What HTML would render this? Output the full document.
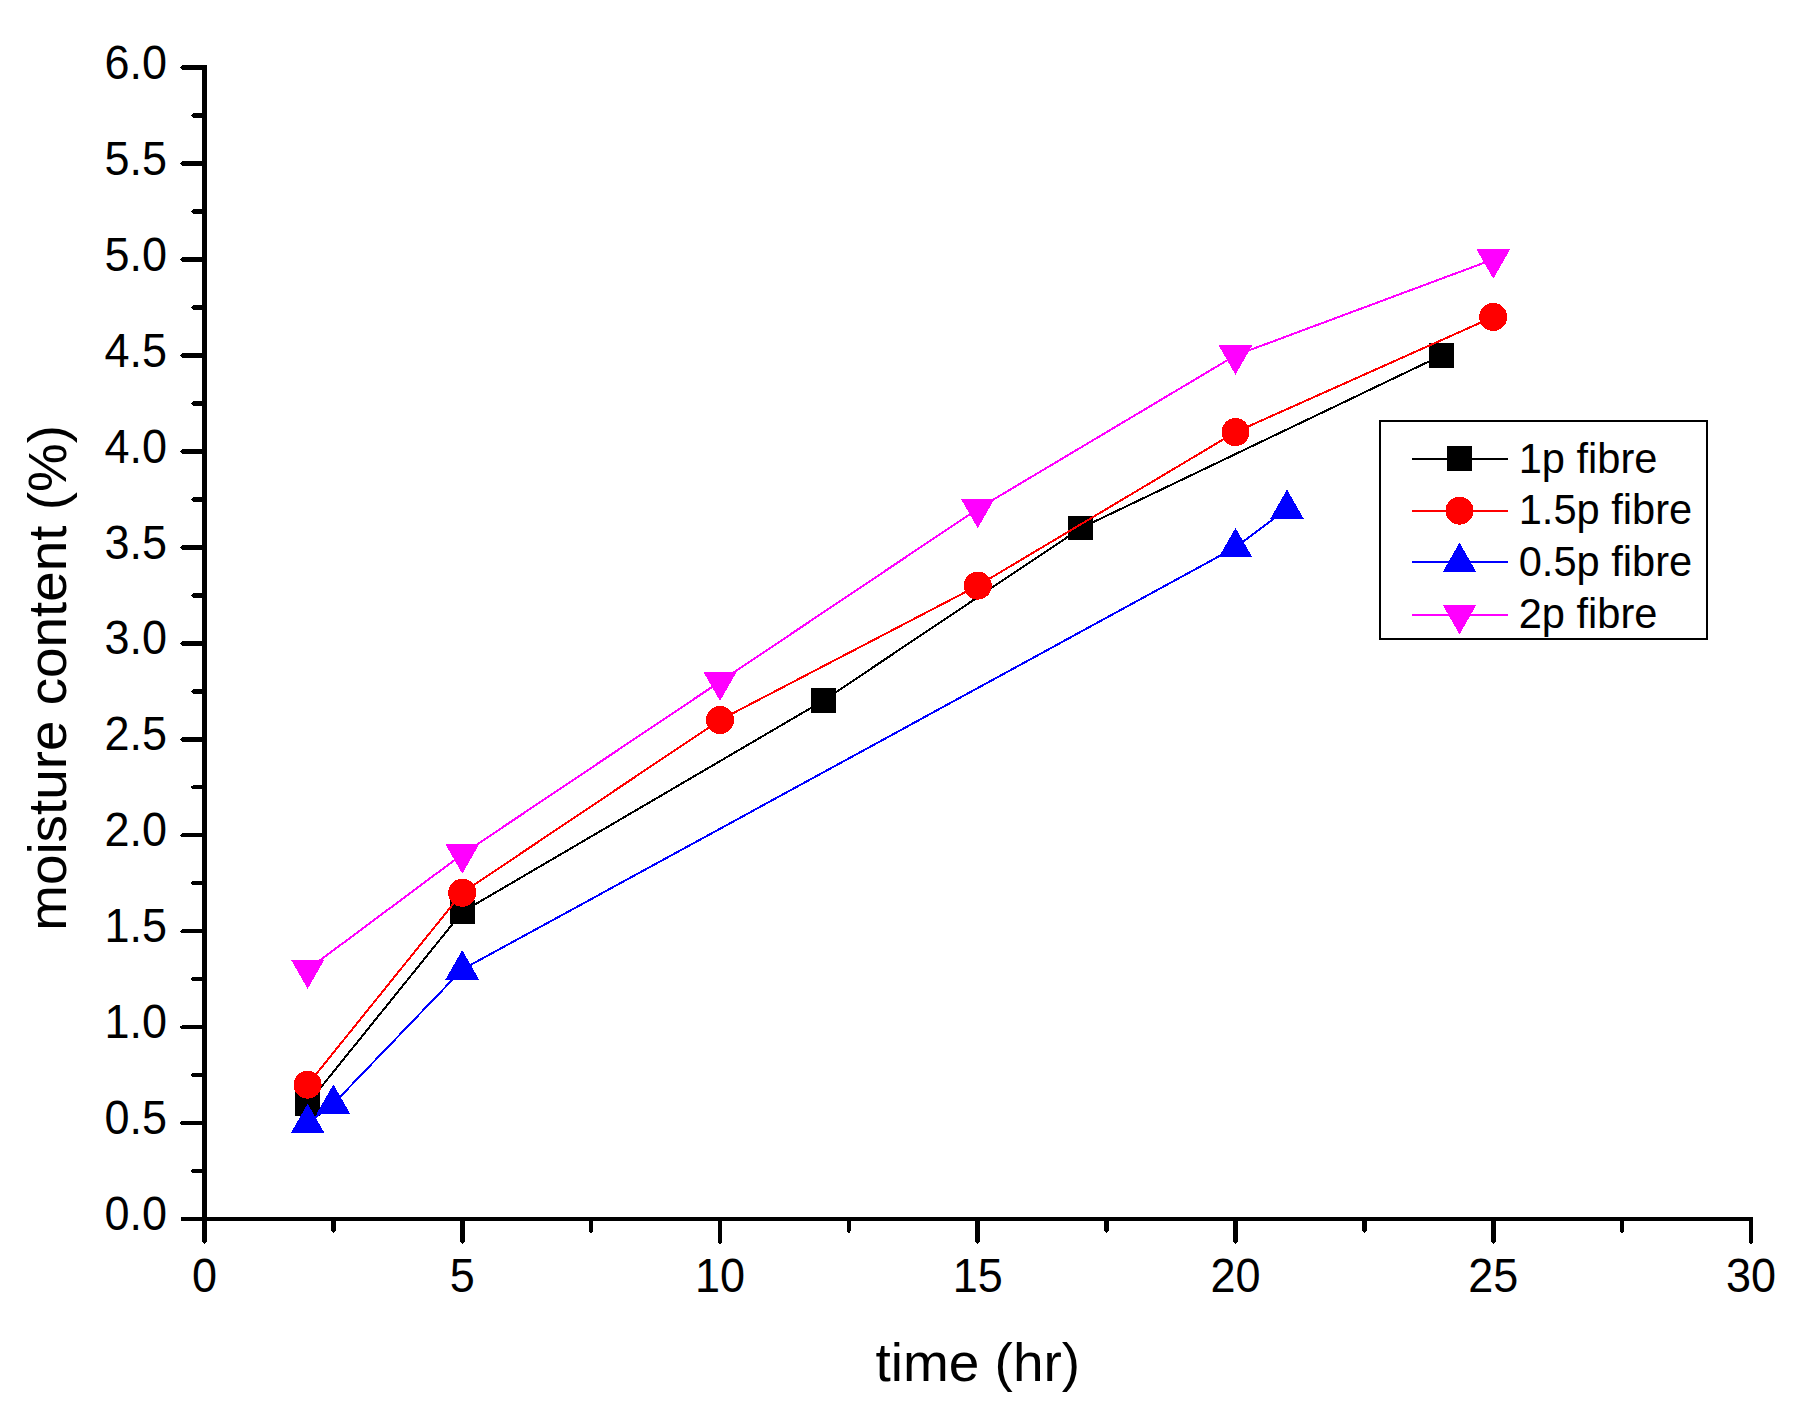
<!DOCTYPE html>
<html lang="en">
<head>
<meta charset="utf-8">
<title>moisture content vs time</title>
<style>
html,body{margin:0;padding:0;background:#fff;}
body{width:1804px;height:1419px;overflow:hidden;}
svg{display:block;}
text{font-family:"Liberation Sans",sans-serif;fill:#000;}
.tick{font-size:45px;}
.title{font-size:55px;}
.leg{font-size:41.6px;}
</style>
</head>
<body>
<svg width="1804" height="1419" viewBox="0 0 1804 1419">
<rect x="0" y="0" width="1804" height="1419" fill="#ffffff"/>

<g shape-rendering="crispEdges">
<polyline fill="none" stroke="#000000" stroke-width="2" points="307.60,1103.85 462.25,911.93 823.10,700.82 1080.85,528.09 1441.70,355.36"/>
<rect x="295.20" y="1091.45" width="24.8" height="24.8" fill="#000000"/>
<rect x="449.85" y="899.53" width="24.8" height="24.8" fill="#000000"/>
<rect x="810.70" y="688.42" width="24.8" height="24.8" fill="#000000"/>
<rect x="1068.45" y="515.69" width="24.8" height="24.8" fill="#000000"/>
<rect x="1429.30" y="342.96" width="24.8" height="24.8" fill="#000000"/>
<polyline fill="none" stroke="#ff0000" stroke-width="2" points="307.60,1084.66 462.25,892.74 720.00,720.01 977.75,585.66 1235.50,432.13 1493.25,316.98"/>
<circle cx="307.60" cy="1084.66" r="14" fill="#ff0000"/>
<circle cx="462.25" cy="892.74" r="14" fill="#ff0000"/>
<circle cx="720.00" cy="720.01" r="14" fill="#ff0000"/>
<circle cx="977.75" cy="585.66" r="14" fill="#ff0000"/>
<circle cx="1235.50" cy="432.13" r="14" fill="#ff0000"/>
<circle cx="1493.25" cy="316.98" r="14" fill="#ff0000"/>
<polyline fill="none" stroke="#0000ff" stroke-width="2" points="307.60,1123.04 333.38,1103.85 462.25,969.50 1235.50,547.28 1287.05,508.90"/>
<polygon points="307.60,1103.64 290.80,1133.04 324.40,1133.04" fill="#0000ff"/>
<polygon points="333.38,1084.45 316.57,1113.85 350.18,1113.85" fill="#0000ff"/>
<polygon points="462.25,950.10 445.45,979.50 479.05,979.50" fill="#0000ff"/>
<polygon points="1235.50,527.88 1218.70,557.28 1252.30,557.28" fill="#0000ff"/>
<polygon points="1287.05,489.50 1270.25,518.90 1303.85,518.90" fill="#0000ff"/>
<polyline fill="none" stroke="#ff00ff" stroke-width="2" points="307.60,969.50 462.25,854.35 720.00,681.62 977.75,508.90 1235.50,355.36 1493.25,259.40"/>
<polygon points="307.60,988.90 290.80,959.50 324.40,959.50" fill="#ff00ff"/>
<polygon points="462.25,873.75 445.45,844.35 479.05,844.35" fill="#ff00ff"/>
<polygon points="720.00,701.02 703.20,671.62 736.80,671.62" fill="#ff00ff"/>
<polygon points="977.75,528.30 960.95,498.90 994.55,498.90" fill="#ff00ff"/>
<polygon points="1235.50,374.76 1218.70,345.36 1252.30,345.36" fill="#ff00ff"/>
<polygon points="1493.25,278.80 1476.45,249.40 1510.05,249.40" fill="#ff00ff"/>
</g>
<g fill="#000" shape-rendering="crispEdges">
<rect x="202" y="65" width="5" height="1177"/>
<rect x="181" y="1217" width="1572" height="4"/>
</g>
<g fill="#000" shape-rendering="crispEdges">
<polygon points="190.8,1171.02 193.2,1168.72 203,1168.72 203,1173.32 193.2,1173.32"/>
<polygon points="179.9,1123.04 182.3,1120.74 203,1120.74 203,1125.34 182.3,1125.34"/>
<polygon points="190.8,1075.06 193.2,1072.76 203,1072.76 203,1077.36 193.2,1077.36"/>
<polygon points="179.9,1027.08 182.3,1024.78 203,1024.78 203,1029.38 182.3,1029.38"/>
<polygon points="190.8,979.10 193.2,976.80 203,976.80 203,981.40 193.2,981.40"/>
<polygon points="179.9,931.12 182.3,928.82 203,928.82 203,933.42 182.3,933.42"/>
<polygon points="190.8,883.14 193.2,880.84 203,880.84 203,885.44 193.2,885.44"/>
<polygon points="179.9,835.16 182.3,832.86 203,832.86 203,837.46 182.3,837.46"/>
<polygon points="190.8,787.18 193.2,784.88 203,784.88 203,789.48 193.2,789.48"/>
<polygon points="179.9,739.20 182.3,736.90 203,736.90 203,741.50 182.3,741.50"/>
<polygon points="190.8,691.22 193.2,688.92 203,688.92 203,693.52 193.2,693.52"/>
<polygon points="179.9,643.24 182.3,640.94 203,640.94 203,645.54 182.3,645.54"/>
<polygon points="190.8,595.26 193.2,592.96 203,592.96 203,597.56 193.2,597.56"/>
<polygon points="179.9,547.28 182.3,544.98 203,544.98 203,549.58 182.3,549.58"/>
<polygon points="190.8,499.30 193.2,497.00 203,497.00 203,501.60 193.2,501.60"/>
<polygon points="179.9,451.32 182.3,449.02 203,449.02 203,453.62 182.3,453.62"/>
<polygon points="190.8,403.34 193.2,401.04 203,401.04 203,405.64 193.2,405.64"/>
<polygon points="179.9,355.36 182.3,353.06 203,353.06 203,357.66 182.3,357.66"/>
<polygon points="190.8,307.38 193.2,305.08 203,305.08 203,309.68 193.2,309.68"/>
<polygon points="179.9,259.40 182.3,257.10 203,257.10 203,261.70 182.3,261.70"/>
<polygon points="190.8,211.42 193.2,209.12 203,209.12 203,213.72 193.2,213.72"/>
<polygon points="179.9,163.44 182.3,161.14 203,161.14 203,165.74 182.3,165.74"/>
<polygon points="190.8,115.46 193.2,113.16 203,113.16 203,117.76 193.2,117.76"/>
<polygon points="179.9,67.48 182.3,65.18 203,65.18 203,69.78 182.3,69.78"/>
<polygon points="204.50,1244.2 202.20,1241.8 202.20,1219 206.80,1219 206.80,1241.8"/>
<polygon points="333.38,1233.2 331.07,1230.8 331.07,1219 335.68,1219 335.68,1230.8"/>
<polygon points="462.25,1244.2 459.95,1241.8 459.95,1219 464.55,1219 464.55,1241.8"/>
<polygon points="591.12,1233.2 588.83,1230.8 588.83,1219 593.42,1219 593.42,1230.8"/>
<polygon points="720.00,1244.2 717.70,1241.8 717.70,1219 722.30,1219 722.30,1241.8"/>
<polygon points="848.88,1233.2 846.58,1230.8 846.58,1219 851.17,1219 851.17,1230.8"/>
<polygon points="977.75,1244.2 975.45,1241.8 975.45,1219 980.05,1219 980.05,1241.8"/>
<polygon points="1106.62,1233.2 1104.33,1230.8 1104.33,1219 1108.92,1219 1108.92,1230.8"/>
<polygon points="1235.50,1244.2 1233.20,1241.8 1233.20,1219 1237.80,1219 1237.80,1241.8"/>
<polygon points="1364.38,1233.2 1362.08,1230.8 1362.08,1219 1366.67,1219 1366.67,1230.8"/>
<polygon points="1493.25,1244.2 1490.95,1241.8 1490.95,1219 1495.55,1219 1495.55,1241.8"/>
<polygon points="1622.12,1233.2 1619.83,1230.8 1619.83,1219 1624.42,1219 1624.42,1230.8"/>
<polygon points="1751.00,1244.2 1748.70,1241.8 1748.70,1219 1753.30,1219 1753.30,1241.8"/>
</g>
<g class="tick" text-anchor="end">
<text transform="translate(167,1230.2) scale(1,1.05)">0.0</text>
<text transform="translate(167,1134.2) scale(1,1.05)">0.5</text>
<text transform="translate(167,1038.3) scale(1,1.05)">1.0</text>
<text transform="translate(167,942.3) scale(1,1.05)">1.5</text>
<text transform="translate(167,846.4) scale(1,1.05)">2.0</text>
<text transform="translate(167,750.4) scale(1,1.05)">2.5</text>
<text transform="translate(167,654.4) scale(1,1.05)">3.0</text>
<text transform="translate(167,558.5) scale(1,1.05)">3.5</text>
<text transform="translate(167,462.5) scale(1,1.05)">4.0</text>
<text transform="translate(167,366.6) scale(1,1.05)">4.5</text>
<text transform="translate(167,270.6) scale(1,1.05)">5.0</text>
<text transform="translate(167,174.6) scale(1,1.05)">5.5</text>
<text transform="translate(167,78.7) scale(1,1.05)">6.0</text>
</g>
<g class="tick" text-anchor="middle">
<text transform="translate(204.5,1291.8) scale(1,1.05)">0</text>
<text transform="translate(462.2,1291.8) scale(1,1.05)">5</text>
<text transform="translate(720.0,1291.8) scale(1,1.05)">10</text>
<text transform="translate(977.8,1291.8) scale(1,1.05)">15</text>
<text transform="translate(1235.5,1291.8) scale(1,1.05)">20</text>
<text transform="translate(1493.2,1291.8) scale(1,1.05)">25</text>
<text transform="translate(1751.0,1291.8) scale(1,1.05)">30</text>
</g>
<text class="title" text-anchor="middle" transform="translate(977.8,1381) scale(1,0.99)">time (hr)</text>
<text class="title" text-anchor="middle" transform="translate(65.9,677.9) rotate(-90) scale(0.997,0.99)">moisture content (%)</text>
<rect x="1380" y="421" width="327" height="218" fill="#fff" stroke="#000" stroke-width="2" shape-rendering="crispEdges"/>
<g shape-rendering="crispEdges">
<line x1="1411.5" y1="459" x2="1507.5" y2="459" stroke="#000000" stroke-width="2"/>
<rect x="1447.10" y="446.30" width="24.8" height="24.8" fill="#000000"/>
<line x1="1411.5" y1="511" x2="1507.5" y2="511" stroke="#ff0000" stroke-width="2"/>
<circle cx="1459.50" cy="510.70" r="14" fill="#ff0000"/>
<line x1="1411.5" y1="562" x2="1507.5" y2="562" stroke="#0000ff" stroke-width="2"/>
<polygon points="1459.50,542.60 1442.70,572.00 1476.30,572.00" fill="#0000ff"/>
<line x1="1411.5" y1="615" x2="1507.5" y2="615" stroke="#ff00ff" stroke-width="2"/>
<polygon points="1459.50,634.40 1442.70,605.00 1476.30,605.00" fill="#ff00ff"/>
</g>
<g class="leg">
<text x="1518.7" y="472.5">1p fibre</text>
<text x="1518.7" y="524.4">1.5p fibre</text>
<text x="1518.7" y="576.3">0.5p fibre</text>
<text x="1518.7" y="628.2">2p fibre</text>
</g>
</svg>
</body>
</html>
